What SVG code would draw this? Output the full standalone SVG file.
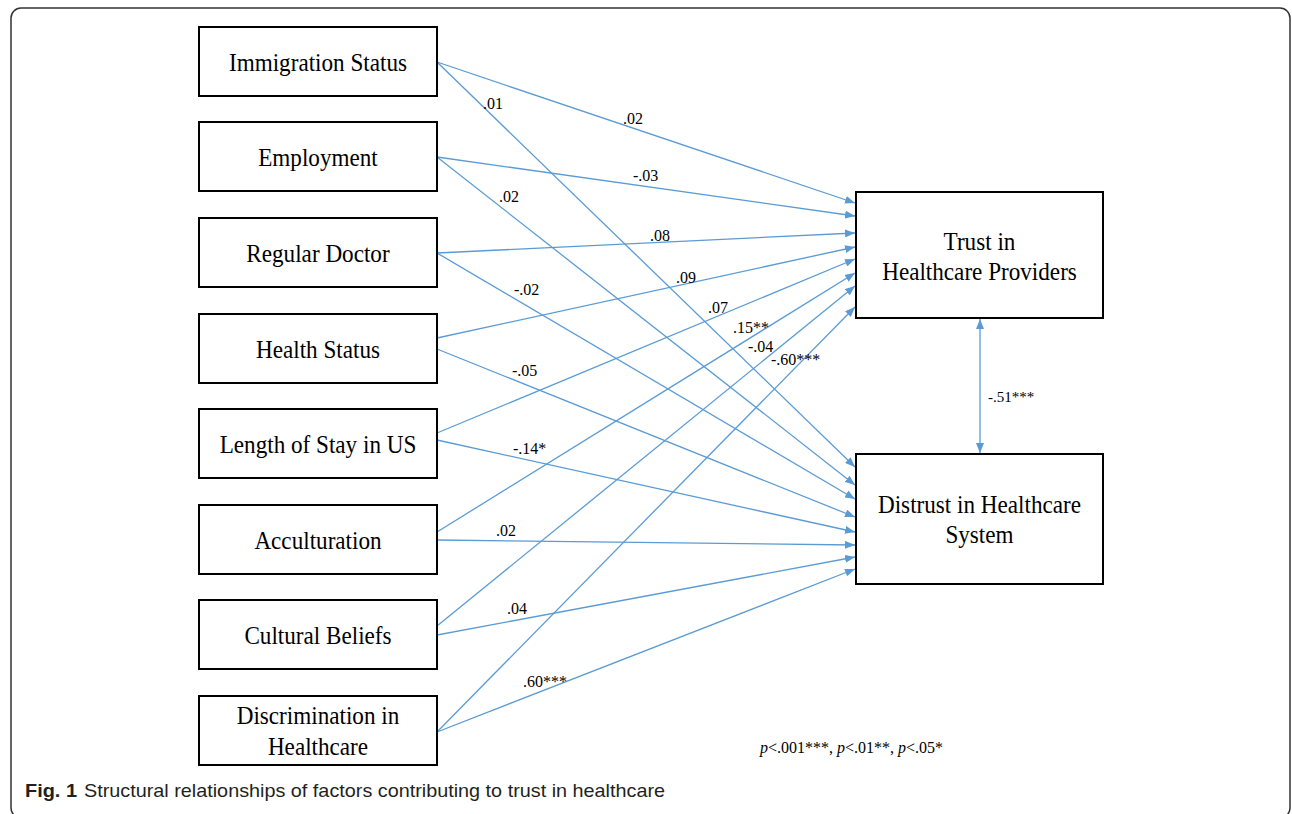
<svg xmlns="http://www.w3.org/2000/svg" width="1292" height="814" viewBox="0 0 1292 814">
  <style>
    .box { fill: #ffffff; stroke: #000000; stroke-width: 2; }
    .nt { font-family: "Liberation Serif", "Times New Roman", serif; font-size: 26px; fill: #000; text-anchor: middle; }
    .el { font-family: "Liberation Serif", "Times New Roman", serif; font-size: 16px; fill: #000; }
    .conn { stroke: #5B9BD5; stroke-width: 1.3; fill: none; marker-end: url(#ah); }
    .cap { font-family: "Liberation Sans", Arial, sans-serif; font-size: 19px; fill: #231f20; }
  </style>
  <defs>
    <marker id="ah" viewBox="0 0 10 8" refX="10" refY="4" markerWidth="10" markerHeight="8" markerUnits="userSpaceOnUse" orient="auto">
      <path d="M0,0 L10,4 L0,8 z" fill="#5B9BD5"/>
    </marker>
    <marker id="ah2" viewBox="0 0 10 8" refX="10" refY="4" markerWidth="10" markerHeight="8" markerUnits="userSpaceOnUse" orient="auto-start-reverse">
      <path d="M0,0 L10,4 L0,8 z" fill="#5B9BD5"/>
    </marker>
  </defs>
  <rect x="0" y="0" width="1292" height="814" fill="#ffffff"/>
  <rect x="11" y="8" width="1279" height="810" rx="10" ry="10" fill="none" stroke="#333" stroke-width="1.5"/>

  <g id="connectors">
    <line class="conn" x1="437" y1="62" x2="855" y2="203"/>
    <line class="conn" x1="437" y1="157" x2="855" y2="216"/>
    <line class="conn" x1="437" y1="253" x2="855" y2="233"/>
    <line class="conn" x1="437" y1="338" x2="855" y2="247"/>
    <line class="conn" x1="437" y1="433" x2="855" y2="259"/>
    <line class="conn" x1="437" y1="532" x2="855" y2="273"/>
    <line class="conn" x1="437" y1="626" x2="855" y2="286"/>
    <line class="conn" x1="437" y1="732" x2="855" y2="307"/>
    <line class="conn" x1="437" y1="62" x2="855" y2="467"/>
    <line class="conn" x1="437" y1="157" x2="855" y2="485"/>
    <line class="conn" x1="437" y1="253" x2="855" y2="499"/>
    <line class="conn" x1="437" y1="349" x2="855" y2="517"/>
    <line class="conn" x1="437" y1="440" x2="855" y2="532"/>
    <line class="conn" x1="437" y1="540" x2="855" y2="545"/>
    <line class="conn" x1="437" y1="635" x2="855" y2="557"/>
    <line class="conn" x1="437" y1="732" x2="855" y2="569"/>
    <line x1="980" y1="319" x2="980" y2="453" stroke="#5B9BD5" stroke-width="1.3" marker-start="url(#ah2)" marker-end="url(#ah2)"/>
    <g class="el">
      <text x="483" y="109">.01</text>
      <text x="623" y="124">.02</text>
      <text x="633" y="181">-.03</text>
      <text x="499" y="202">.02</text>
      <text x="650" y="241">.08</text>
      <text x="676" y="283">.09</text>
      <text x="514" y="295">-.02</text>
      <text x="708" y="313">.07</text>
      <text x="733" y="333">.15**</text>
      <text x="748" y="352">-.04</text>
      <text x="771" y="365">-.60***</text>
      <text x="512" y="376">-.05</text>
      <text x="513" y="454">-.14*</text>
      <text x="496" y="536">.02</text>
      <text x="507" y="614">.04</text>
      <text x="523" y="687">.60***</text>
      <text x="988" y="402" style="font-size:15px">-.51***</text>
    </g>
  </g>

  <g id="n-immigration">
    <rect class="box" x="199" y="27" width="238" height="69"/>
    <text class="nt" transform="translate(318,71) scale(0.89,1)">Immigration Status</text>
  </g>
  <g id="n-employment">
    <rect class="box" x="199" y="122" width="238" height="69"/>
    <text class="nt" transform="translate(318,166) scale(0.89,1)">Employment</text>
  </g>
  <g id="n-doctor">
    <rect class="box" x="199" y="218" width="238" height="69"/>
    <text class="nt" transform="translate(318,262) scale(0.89,1)">Regular Doctor</text>
  </g>
  <g id="n-health">
    <rect class="box" x="199" y="314" width="238" height="69"/>
    <text class="nt" transform="translate(318,358) scale(0.89,1)">Health Status</text>
  </g>
  <g id="n-stay">
    <rect class="box" x="199" y="409" width="238" height="69"/>
    <text class="nt" transform="translate(318,453) scale(0.89,1)">Length of Stay in US</text>
  </g>
  <g id="n-accult">
    <rect class="box" x="199" y="505" width="238" height="69"/>
    <text class="nt" transform="translate(318,549) scale(0.89,1)">Acculturation</text>
  </g>
  <g id="n-beliefs">
    <rect class="box" x="199" y="600" width="238" height="69"/>
    <text class="nt" transform="translate(318,644) scale(0.89,1)">Cultural Beliefs</text>
  </g>
  <g id="n-discrim">
    <rect class="box" x="199" y="696" width="238" height="69"/>
    <text class="nt" transform="translate(318,724) scale(0.89,1)">Discrimination in</text>
    <text class="nt" transform="translate(318,755) scale(0.89,1)">Healthcare</text>
  </g>
  <g id="n-trust">
    <rect class="box" x="856" y="192" width="247" height="126"/>
    <text class="nt" transform="translate(979.5,250) scale(0.89,1)">Trust in</text>
    <text class="nt" transform="translate(979.5,280) scale(0.89,1)">Healthcare Providers</text>
  </g>
  <g id="n-distrust">
    <rect class="box" x="856" y="454" width="247" height="130"/>
    <text class="nt" transform="translate(979.5,513) scale(0.89,1)">Distrust in Healthcare</text>
    <text class="nt" transform="translate(979.5,543) scale(0.89,1)">System</text>
  </g>

  <text x="760" y="753" class="el"><tspan font-style="italic">p</tspan>&lt;.001***, <tspan font-style="italic">p</tspan>&lt;.01**, <tspan font-style="italic">p</tspan>&lt;.05*</text>

  <text x="25" y="797" class="cap" font-weight="bold" textLength="52" lengthAdjust="spacingAndGlyphs">Fig. 1</text>
  <text x="84" y="797" class="cap" textLength="581" lengthAdjust="spacingAndGlyphs">Structural relationships of factors contributing to trust in healthcare</text>
</svg>
